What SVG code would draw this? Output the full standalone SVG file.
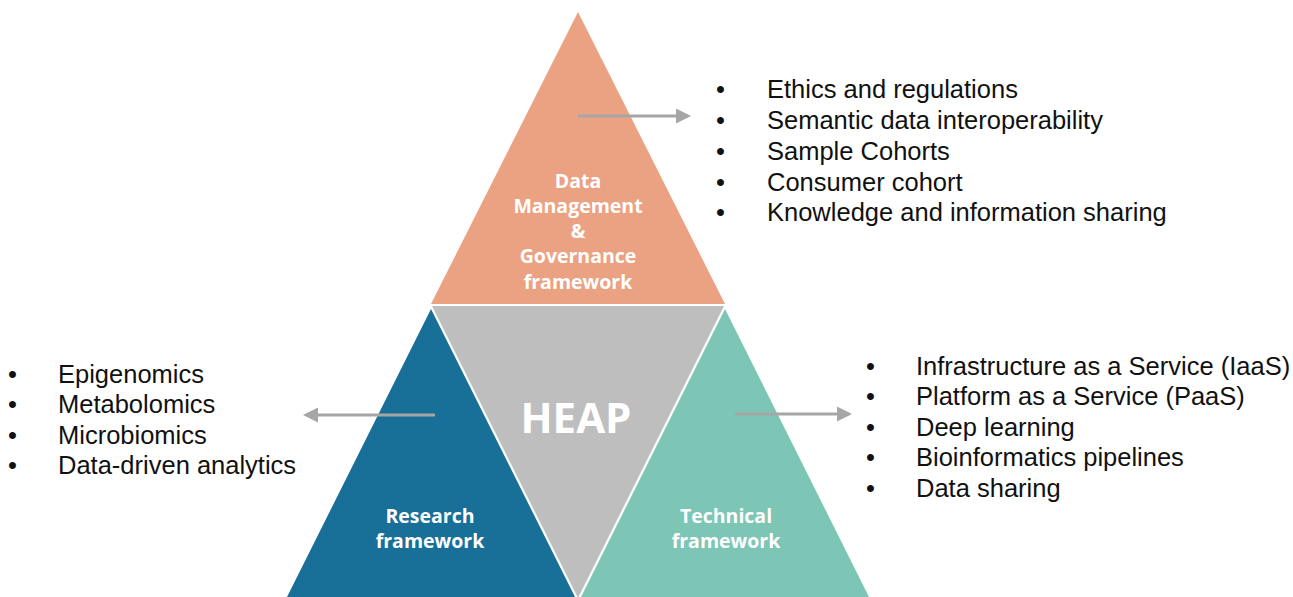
<svg xmlns="http://www.w3.org/2000/svg" width="1293" height="597" viewBox="0 0 1293 597">
<style>
.list{font-family:"Liberation Sans",Arial,sans-serif;font-size:25.5px;fill:#111}
.lbl{font-family:"Open Sans","Noto Sans",sans-serif;font-weight:700;font-size:19.5px;fill:#fff;text-anchor:middle}
.heap{font-family:"Open Sans","Noto Sans",sans-serif;font-weight:700;font-size:42px;fill:#fff;text-anchor:middle}
.conn{stroke:#a6a6a6;stroke-width:3;fill:none}
</style>
<defs>
<marker id="ah" markerWidth="5" markerHeight="5" refX="4" refY="2.5" orient="auto" markerUnits="strokeWidth">
<path d="M0,0 L5,2.5 L0,5 Z" fill="#a6a6a6"/>
</marker>
</defs>
<rect width="1293" height="597" fill="#fff"/>
<g id="node-governance">
<polygon points="578,12 431,304 725,304" fill="#eaa283"/>
<text class="lbl" x="578" y="188">Data</text>
<text class="lbl" x="578" y="213">Management</text>
<text class="lbl" x="578" y="238">&amp;</text>
<text class="lbl" x="578" y="263">Governance</text>
<text class="lbl" x="578" y="289">framework</text>
</g>
<g id="node-heap">
<polygon points="432,306 724,306 578,598" fill="#bfbebf"/>
<text class="heap" x="576" y="433">HEAP</text>
</g>
<g id="node-research">
<polygon points="431,309 287,597 575,597" fill="#186f98"/>
<text class="lbl" x="430" y="523">Research</text>
<text class="lbl" x="430" y="548">framework</text>
</g>
<g id="node-technical">
<polygon points="725,309 581,597 869,597" fill="#7dc6b5"/>
<text class="lbl" x="726" y="523">Technical</text>
<text class="lbl" x="726" y="548">framework</text>
</g>
<g id="connectors">
<line class="conn" x1="578" y1="116" x2="688" y2="116" marker-end="url(#ah)"/>
<line class="conn" x1="435" y1="415" x2="306" y2="415" marker-end="url(#ah)"/>
<line class="conn" x1="735" y1="414" x2="849" y2="414" marker-end="url(#ah)"/>
</g>
<g id="list-governance" class="list">
<text x="716" y="98">•</text><text x="767" y="98">Ethics and regulations</text>
<text x="716" y="129">•</text><text x="767" y="129">Semantic data interoperability</text>
<text x="716" y="160">•</text><text x="767" y="160">Sample Cohorts</text>
<text x="716" y="191">•</text><text x="767" y="191">Consumer cohort</text>
<text x="716" y="221">•</text><text x="767" y="221">Knowledge and information sharing</text>
</g>
<g id="list-research" class="list">
<text x="8" y="383">•</text><text x="58" y="383">Epigenomics</text>
<text x="8" y="413">•</text><text x="58" y="413">Metabolomics</text>
<text x="8" y="444">•</text><text x="58" y="444">Microbiomics</text>
<text x="8" y="474">•</text><text x="58" y="474">Data-driven analytics</text>
</g>
<g id="list-technical" class="list">
<text x="866" y="375">•</text><text x="916" y="375">Infrastructure as a Service (IaaS)</text>
<text x="866" y="405">•</text><text x="916" y="405">Platform as a Service (PaaS)</text>
<text x="866" y="436">•</text><text x="916" y="436">Deep learning</text>
<text x="866" y="466">•</text><text x="916" y="466">Bioinformatics pipelines</text>
<text x="866" y="497">•</text><text x="916" y="497">Data sharing</text>
</g>
</svg>
